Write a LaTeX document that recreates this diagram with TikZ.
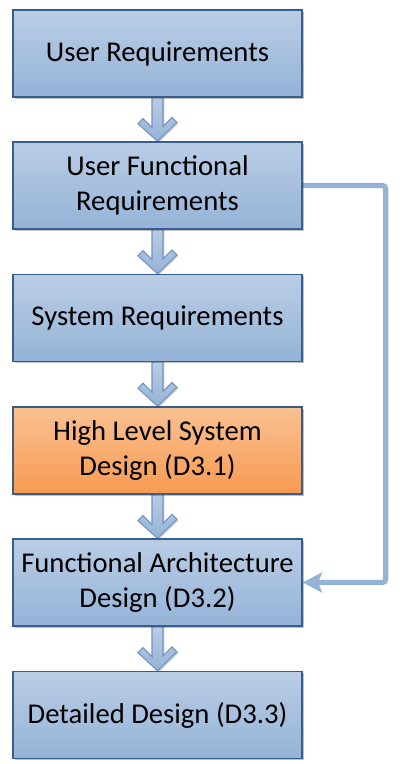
\documentclass[tikz,border=0pt]{standalone}
\usepackage{fontspec}
\setmainfont{Carlito}
\usetikzlibrary{arrows.meta,shadows,backgrounds,calc}
\definecolor{boxtop}{HTML}{BACDE5}
\definecolor{boxbot}{HTML}{95B3D7}
\definecolor{boxline}{HTML}{385D8A}
\definecolor{ortop}{HTML}{FAC192}
\definecolor{orbot}{HTML}{F79A52}
\definecolor{arrline}{HTML}{7393C4}
\definecolor{fbline}{HTML}{95B3D7}
\tikzset{
  stagebox/.style={draw=boxline, line width=1.1pt, top color=boxtop, bottom color=boxbot,
    minimum width=216.75pt, minimum height=65.25pt, align=center, inner sep=2pt,
    font=\fontsize{21.5}{25.8}\selectfont,
    drop shadow={shadow xshift=1.4pt, shadow yshift=-1.4pt, opacity=0.35, fill=black!70}},
  orangebox/.style={stagebox, top color=ortop, bottom color=orbot},
  blockarrow/.style={draw=arrline, line width=0.8pt, top color=boxtop, bottom color=boxbot, line join=miter,
    drop shadow={shadow xshift=1pt, shadow yshift=-1pt, opacity=0.3, fill=black!60}},
  feedback/.style={draw=fbline, line width=3.9pt, rounded corners=2.5pt,
    -{Stealth[length=14.5pt, width=15pt, inset=3pt]}}
}
\begin{document}
\begin{tikzpicture}[x=0.75pt, y=-0.75pt]
\useasboundingbox (0,0) rectangle (400,764);
\node[stagebox] (b1) at (157.5,53.5) {User Requirements};
\node[stagebox] (b2) at (157.5,185.5) {User Functional\\Requirements};
\node[stagebox] (b3) at (157.5,318) {System Requirements};
\node[orangebox] (b4) at (157.5,450.5) {High Level System\\Design (D3.1)};
\node[stagebox] (b5) at (157.5,582.5) {Functional Architecture\\Design (D3.2)};
\node[stagebox] (b6) at (157.5,715) {Detailed Design (D3.3)};
\begin{scope}[on background layer]
\foreach \a/\b in {b1/b2,b2/b3,b3/b4,b4/b5,b5/b6}{
  \path[blockarrow] ($(\a.south)+(-5.5,0)$) -- ++(0,30) -- ++(-9,-9) -- ++(-5,5)
     -- (\b.north) -- ++(19.5,-19) -- ++(-5,-5) -- ++(-9,9) -- ++(0,-30) -- cycle;
}
\draw[feedback] (b2.east) -- ++(83,0) |- (b5.east);
\end{scope}
\end{tikzpicture}
\end{document}
